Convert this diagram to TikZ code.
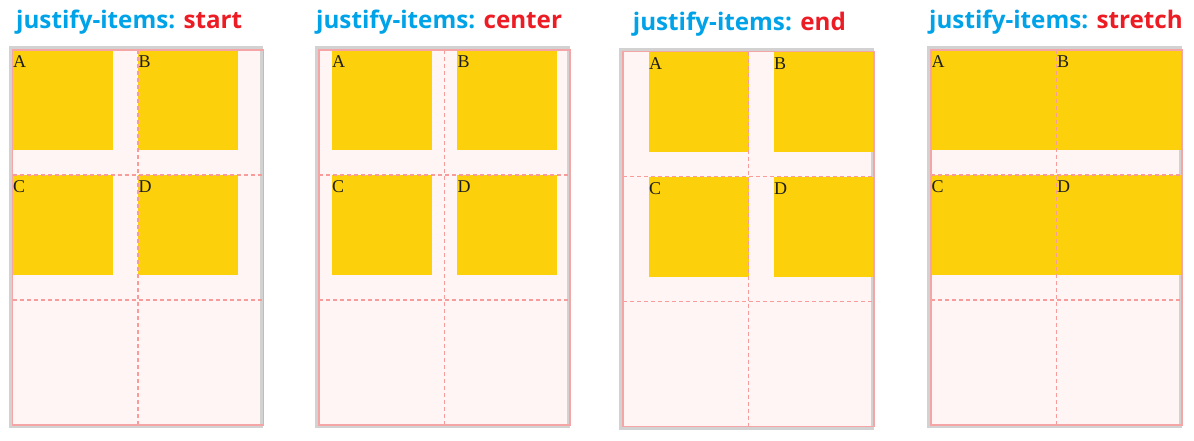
\documentclass[tikz,border=0pt]{standalone}
\usepackage{fontspec}
\setmainfont{Liberation Serif}
\newfontfamily\titlefont{Open Sans}
\usetikzlibrary{positioning}

\definecolor{framegray}{RGB}{210,210,210}
\definecolor{gridbg}{RGB}{255,245,244}
\definecolor{gridborder}{RGB}{245,165,165}
\definecolor{gridline}{RGB}{248,155,155}
\definecolor{itemyellow}{RGB}{253,208,12}
\definecolor{titleblue}{RGB}{0,162,232}
\definecolor{valred}{RGB}{237,28,36}
\definecolor{labeltext}{RGB}{30,30,30}

\begin{document}
\begin{tikzpicture}[
      x=1pt, y=-1pt,
      cellline/.style={
        draw=gridline, line width=1.1pt, dash pattern=on 4pt off 3pt
      },
      gitem/.style={
        fill=itemyellow, inner sep=0pt, outer sep=0pt, anchor=north west,
        minimum height=100pt, minimum width=#1
      },
      gitem/.default=100pt,
      itemlabel/.style={
        anchor=base west, inner sep=0pt, text=labeltext,
        font=\fontsize{18}{18}\selectfont
      },
      title/.style={
        anchor=base west, inner sep=0pt, text=titleblue,
        font=\titlefont\bfseries\fontsize{24.2}{24.2}\selectfont
      }
    ]
    \useasboundingbox (0,0) rectangle (1194,440);

    % Titles
    \node[title] (t-start) at (16,28.3) {justify-items: \textcolor{valred}{start}};
    \node[title] (t-center) at (316,28.3) {justify-items: \textcolor{valred}{center}};
    \node[title] (t-end) at (632.7,30) {justify-items: \textcolor{valred}{end}};
    \node[title] (t-stretch) at (929,28.3) {justify-items: \textcolor{valred}{stretch}};

    % Grid containers
    \foreach \gx/\gy in {12.5/50, 319/50, 623/51.7, 931/50} {
      \fill[framegray] (\gx-4,\gy-4) rectangle (\gx+250.5,\gy+378);
      \fill[gridbg] (\gx,\gy) rectangle (\gx+247.5,\gy+375);
    }

    % Items: start
    \foreach \l/\x/\y in {A/12.5/50, B/138/50, C/12.5/175, D/138/175} {
      \node[gitem] (start-\l) at (\x,\y) {};
      \node[itemlabel] (start-l\l) at ([shift={(0.5,17.7)}]start-\l.north west) {\l};
    }
    % Items: center
    \foreach \l/\x/\y in {A/331.5/50, B/457/50, C/331.5/175, D/457/175} {
      \node[gitem] (center-\l) at (\x,\y) {};
      \node[itemlabel] (center-l\l) at ([shift={(0.5,17.7)}]center-\l.north west) {\l};
    }
    % Items: end
    \foreach \l/\x/\y in {A/648.5/51.7, B/773.5/51.7, C/648.5/176.7, D/773.5/176.7} {
      \node[gitem] (end-\l) at (\x,\y) {};
      \node[itemlabel] (end-l\l) at ([shift={(0.5,17.7)}]end-\l.north west) {\l};
    }
    % Items: stretch
    \foreach \l/\x/\y in {A/931/50, B/1056.5/50, C/931/175, D/1056.5/175} {
      \node[gitem=125.5pt] (stretch-\l) at (\x,\y) {};
      \node[itemlabel] (stretch-l\l) at ([shift={(0.5,17.7)}]stretch-\l.north west) {\l};
    }

    % Grid lines and borders
    \foreach \gx/\gy in {12.5/50, 319/50, 623/51.7, 931/50} {
      \draw[cellline] (\gx+125.5,\gy) -- (\gx+125.5,\gy+375);
      \draw[cellline] (\gx,\gy+125) -- (\gx+251,\gy+125);
      \draw[cellline] (\gx,\gy+250) -- (\gx+251,\gy+250);
      \draw[gridborder, line width=1.2pt] (\gx,\gy) rectangle (\gx+251,\gy+375);
    }
  \end{tikzpicture}
\end{document}
